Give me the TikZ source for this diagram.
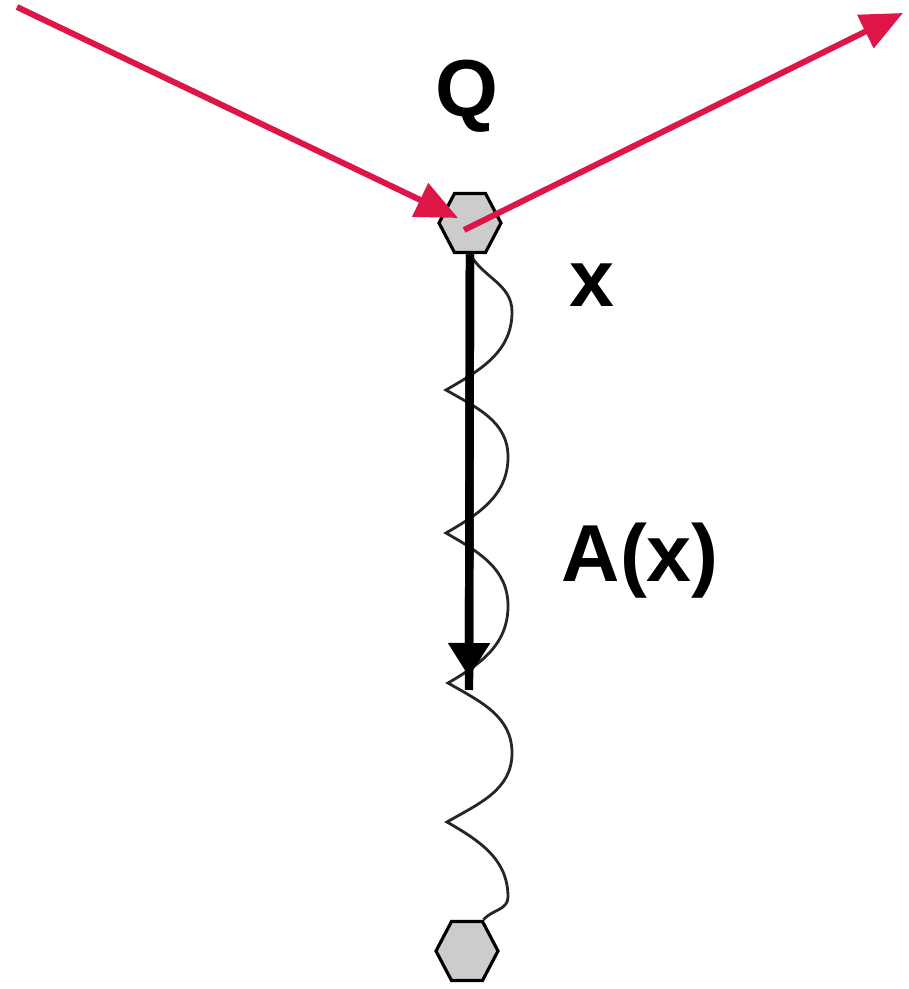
\documentclass[tikz,border=0pt]{standalone}
\usepackage{fontspec}
\setmainfont{Liberation Sans}
\usetikzlibrary{shapes.geometric,arrows.meta}
\definecolor{photon}{RGB}{222,22,72}
\tikzset{
  hexa/.style={regular polygon, regular polygon sides=6, minimum size=6.2mm,
    inner sep=0pt, yscale=1.1, draw, line width=0.9pt, fill=gray!40},
  ray/.style={photon, line width=1.7pt, -{Triangle[length=4.2mm,width=3.6mm]}},
  lbl/.style={font=\bfseries\fontsize{23}{28}\selectfont, inner sep=0pt},
}
\begin{document}
\begin{tikzpicture}[x=0.1mm,y=0.1mm]
        \useasboundingbox (0,0) rectangle (909,989);

        % Hexágonos
        \node[hexa] (qhex) at (470,766) {};
        \node[hexa] (bhex) at (467,38) {};

        % Onda
        \draw[line width=0.8pt, black!85] (qhex.south) to[out=-60,in=90] (512,677)
                     to[out=-90,in=30] (446,599) to[out=-30,in=90] (508,532)
                     to[out=-90,in=30] (446,456) to[out=-30,in=90] (508,383)
                     to[out=-90,in=30] (448,306) to[out=-30,in=90] (512,236)
                     to[out=-90,in=30] (447,167) to[out=-30,in=90] (508,92)
                     to[out=-90,in=50] (bhex.60);

        % Línea con flecha
        \coordinate (aend) at (469,299);
        \coordinate (atip) at (469,312);
        \draw[line width=2.4pt] (qhex.south) -- (aend);
        \draw[line width=2.4pt, -{Triangle[length=3.4mm,width=4mm]}] (qhex.south) -- (atip);

        % Rayos
        \coordinate (rin) at (17,982);
        \coordinate (hin) at (458,771);
        \coordinate (hout) at (464,759);
        \coordinate (rout) at (903,976);
        \draw[ray] (rin) -- (hin);
        \draw[ray] (hout) -- (rout);

        % Etiquetas
        \node[lbl, anchor=base] (lblq) at (467,872) {Q};
        \node[lbl, anchor=base] (lblx) at (592,682) {x};
        \node[lbl, anchor=base west] (lbla) at (561,407) {A(x)};

    \end{tikzpicture}
\end{document}
